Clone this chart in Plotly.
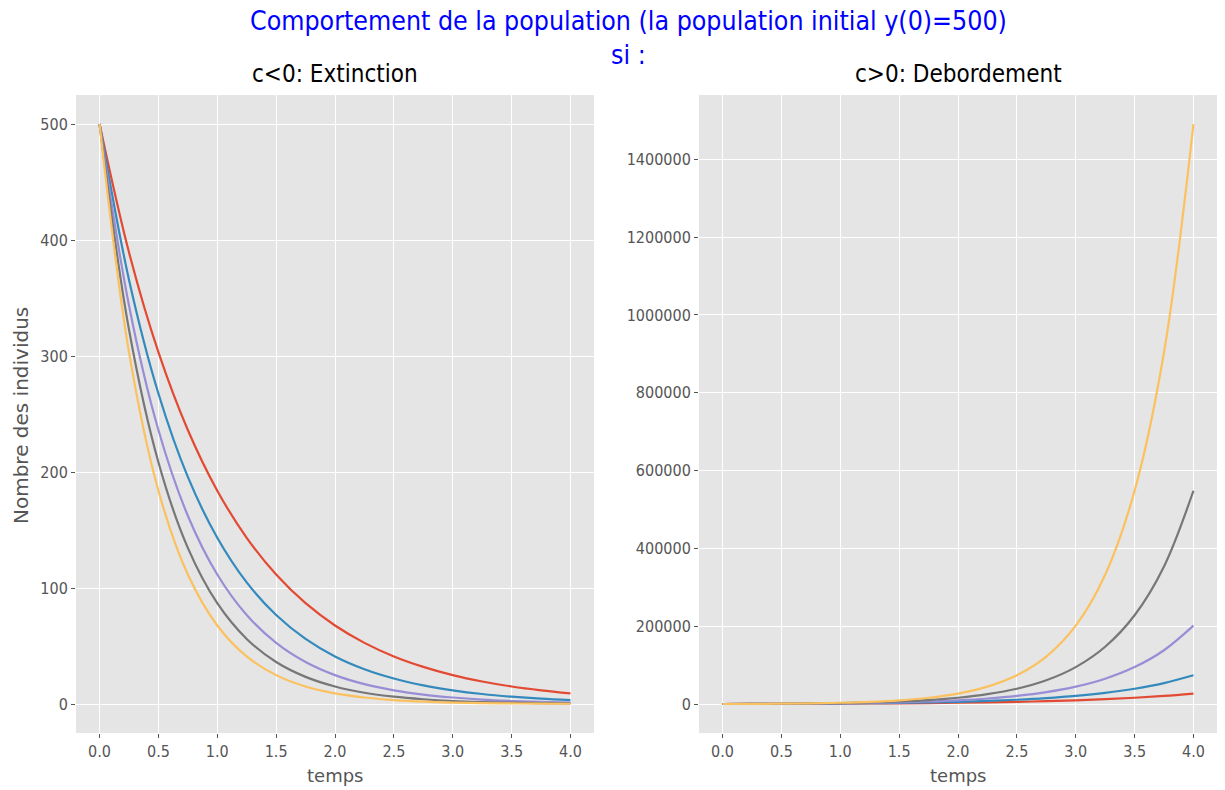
import plotly.graph_objects as go

t = [0.0, 0.25, 0.5, 0.75, 1.0, 1.25, 1.5, 1.75, 2.0, 2.25, 2.5, 2.75, 3.0, 3.25, 3.5, 3.75, 4.0]

# c < 0 : extinction
ext_c1 = [500, 389.4, 303.3, 236.2, 183.9, 143.3, 111.6, 86.9, 67.7, 52.7, 41.0, 32.0, 24.9, 19.4, 15.1, 11.8, 9.2]
ext_c2 = [500, 365.8, 267.7, 195.8, 143.3, 104.8, 76.7, 56.1, 41.0, 30.0, 22.0, 16.1, 11.8, 8.6, 6.3, 4.6, 3.4]
ext_c3 = [500, 343.6, 236.2, 162.3, 111.6, 76.7, 52.7, 36.2, 24.9, 17.1, 11.8, 8.1, 5.6, 3.8, 2.6, 1.8, 1.2]
ext_c4 = [500, 322.8, 208.4, 134.6, 86.9, 56.1, 36.2, 23.4, 15.1, 9.7, 6.3, 4.1, 2.6, 1.7, 1.1, 0.7, 0.5]
ext_c5 = [500, 303.3, 183.9, 111.6, 67.7, 41.0, 24.9, 15.1, 9.2, 5.6, 3.4, 2.0, 1.2, 0.7, 0.5, 0.3, 0.2]

# c > 0 : debordement
deb_c1 = [500, 642, 824, 1059, 1359, 1745, 2241, 2877, 3695, 4744, 6091, 7821, 10043, 12895, 16558, 21261, 27299]
deb_c2 = [500, 683, 934, 1277, 1745, 2385, 3260, 4456, 6091, 8326, 11380, 15555, 21261, 29060, 39720, 54290, 74207]
deb_c3 = [500, 727, 1059, 1540, 2241, 3260, 4744, 6902, 10043, 14612, 21261, 30934, 45009, 65486, 95283, 138635, 201714]
deb_c4 = [500, 774, 1199, 1858, 2877, 4456, 6902, 10690, 16558, 25645, 39720, 61520, 95283, 147600, 228550, 354000, 548317]
deb_c5 = [500, 824, 1359, 2241, 3695, 6091, 10043, 16558, 27299, 45009, 74207, 122346, 201714, 332571, 548317, 904021, 1490479]

x_ticks = [0.0, 0.5, 1.0, 1.5, 2.0, 2.5, 3.0, 3.5, 4.0]
y_ticks_left = [0, 100, 200, 300, 400, 500]
y_ticks_right = [0, 200000, 400000, 600000, 800000, 1000000, 1200000, 1400000]

colors = ["#E24A33", "#348ABD", "#988ED5", "#777777", "#FBC15E"]
FONT = "DejaVu Sans Condensed, Liberation Sans Narrow, Roboto Condensed, DejaVu Sans, sans-serif"
FONT_REG = "DejaVu Sans, sans-serif"
TICK = "#555555"

fig = go.Figure()
for ys, c in zip([ext_c1, ext_c2, ext_c3, ext_c4, ext_c5], colors):
    fig.add_trace(go.Scatter(x=t, y=ys, mode="lines", line=dict(color=c, width=2.2, shape="spline", smoothing=1.0),
                             xaxis="x", yaxis="y", showlegend=False))
for ys, c in zip([deb_c1, deb_c2, deb_c3, deb_c4, deb_c5], colors):
    fig.add_trace(go.Scatter(x=t, y=ys, mode="lines", line=dict(color=c, width=2.2, shape="spline", smoothing=1.0),
                             xaxis="x2", yaxis="y2", showlegend=False))

W, H = 1225, 790
def px(x):
    return x / W
def py(y):
    return (H - y) / H

common_x = dict(tickvals=x_ticks, tickformat=".1f", range=[-0.2, 4.2], showgrid=True, gridcolor="white", gridwidth=1,
                zeroline=False, ticks="outside", ticklen=4, tickcolor=TICK, tickfont=dict(family=FONT, size=16, color=TICK),
                showline=False, automargin=False)
common_y = dict(showgrid=True, gridcolor="white", gridwidth=1, zeroline=False, ticks="outside", ticklen=4,
                tickcolor=TICK, tickfont=dict(family=FONT, size=16, color=TICK), showline=False, automargin=False,
                tickformat="d")

fig.update_layout(
    width=W, height=H,
    margin=dict(l=0, r=0, t=0, b=0),
    paper_bgcolor="white",
    plot_bgcolor="#E5E5E5",
    xaxis=dict(domain=[px(76), px(594)], anchor="y", **common_x),
    yaxis=dict(domain=[py(733), py(95)], anchor="x", tickvals=y_ticks_left, range=[-25, 525], **common_y),
    xaxis2=dict(domain=[px(699), px(1217)], anchor="y2", **common_x),
    yaxis2=dict(domain=[py(733), py(95)], anchor="x2", tickvals=y_ticks_right, range=[-74000, 1565000], **common_y),
)

annotations = [
    dict(text="Comportement de la population (la population initial y(0)=500)<br>si :", x=px(628), y=py(3),
         xref="paper", yref="paper", xanchor="center", yanchor="top", showarrow=False,
         font=dict(family=FONT, size=26.5, color="blue")),
    dict(text="c<0: Extinction", x=px(335), y=py(74), xref="paper", yref="paper", xanchor="center", yanchor="middle",
         showarrow=False, font=dict(family=FONT, size=24, color="black")),
    dict(text="c>0: Debordement", x=px(958), y=py(74), xref="paper", yref="paper", xanchor="center", yanchor="middle",
         showarrow=False, font=dict(family=FONT, size=24, color="black")),
    dict(text="temps", x=px(335), y=py(775), xref="paper", yref="paper", xanchor="center", yanchor="middle",
         showarrow=False, font=dict(family=FONT_REG, size=18, color=TICK)),
    dict(text="temps", x=px(958), y=py(775), xref="paper", yref="paper", xanchor="center", yanchor="middle",
         showarrow=False, font=dict(family=FONT_REG, size=18, color=TICK)),
    dict(text="Nombre des individus", x=px(21), y=py(416), xref="paper", yref="paper", xanchor="center", yanchor="middle",
         textangle=-90, showarrow=False, font=dict(family=FONT_REG, size=20, color=TICK)),
]
fig.update_layout(annotations=annotations)

fig.write_html("out.html", config={"displayModeBar": False},
               post_script="document.body.style.margin='0';document.body.style.overflow='hidden';")
